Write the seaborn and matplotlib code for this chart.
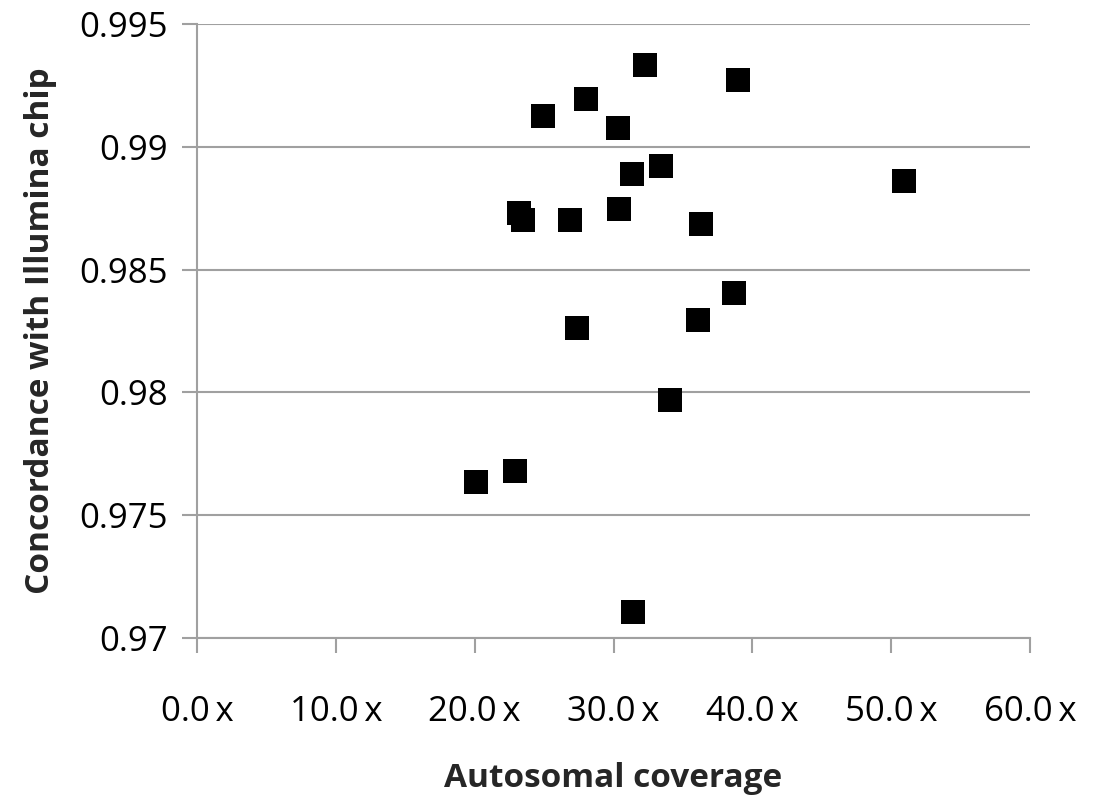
import matplotlib
matplotlib.use("Agg")
import matplotlib.pyplot as plt
import seaborn as sns
import pandas as pd
from matplotlib.ticker import FuncFormatter

coverage = [20.1, 22.9, 23.2, 23.5, 24.9, 26.9, 27.4, 28.0, 30.3, 30.4,
            31.3, 31.4, 32.3, 33.4, 34.1, 36.1, 36.3, 38.7, 39.0, 50.9]
concordance = [0.97636, 0.97681, 0.98729, 0.98701, 0.99125, 0.98701, 0.98264,
               0.99194, 0.99076, 0.98746, 0.98888, 0.97106, 0.99333, 0.98921,
               0.97971, 0.98293, 0.98684, 0.98403, 0.99272, 0.98860]
x_ticks = [0, 10, 20, 30, 40, 50, 60]
y_ticks = [0.97, 0.975, 0.98, 0.985, 0.99, 0.995]

df = pd.DataFrame({"coverage": coverage, "concordance": concordance})

sns.set_style("white")
plt.rcParams['font.family'] = ['Open Sans', 'DejaVu Sans']

fig = plt.figure(figsize=(11.03, 8.0), dpi=100)
ax = fig.add_axes([197/1103, 1-638/800, (1030-197)/1103, (638-24)/800])

sns.scatterplot(data=df, x="coverage", y="concordance", marker="s", s=290,
                color="black", edgecolor="black", linewidth=0, ax=ax, zorder=3)

ax.set_xlim(0, 60)
ax.set_ylim(0.97, 0.995)
ax.set_xticks(x_ticks)
ax.set_yticks(y_ticks)
ax.xaxis.set_major_formatter(FuncFormatter(lambda v, p: f"{v:.1f}\u2009x"))
ax.yaxis.set_major_formatter(FuncFormatter(lambda v, p: f"{v:g}"))
ax.grid(axis="y", color="#a0a0a0", linewidth=1.5)
ax.grid(axis="x", visible=False)
for side in ["top", "right"]:
    ax.spines[side].set_visible(False)
for side in ["left", "bottom"]:
    ax.spines[side].set_color("#a0a0a0")
    ax.spines[side].set_linewidth(1.5)
ax.tick_params(axis="both", which="major", direction="out", length=11,
               width=1.5, color="#a0a0a0", labelsize=25, labelcolor="black",
               bottom=True, left=True)
ax.tick_params(axis="x", pad=30)
ax.tick_params(axis="y", pad=10)
ax.set_xlabel("Autosomal coverage", fontsize=24, fontweight="bold", labelpad=24)
ax.set_ylabel("Concordance with Illumina chip", fontsize=24, fontweight="bold", labelpad=16)

fig.savefig("out.png", dpi=100, facecolor="white")
